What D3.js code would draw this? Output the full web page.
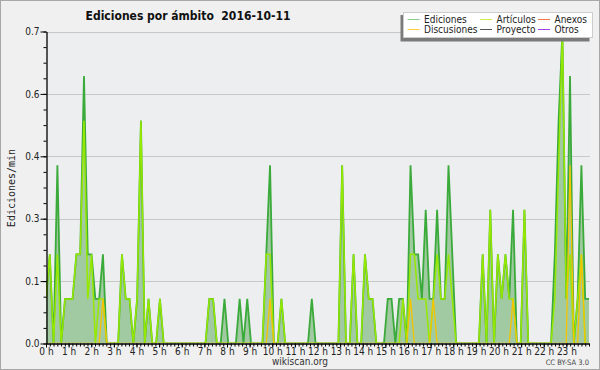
<!DOCTYPE html>
<html>
<head>
<meta charset="utf-8">
<script src="https://cdn.jsdelivr.net/npm/d3@7"></script>
<style>
body { margin: 0; background: #f0f0f0; }
svg { display: block; font-family: "DejaVu Sans Condensed", "DejaVu Sans", sans-serif; }
</style>
</head>
<body>
<script>
// edits per minute, one point per 10 minutes (144 points for the day)
var ediciones = [
	0.1,0.2,0,0.4,0,0.1,0.1,0.1,0.2,0.2,0.6,0.2,
	0.2,0.1,0.1,0.2,0,0,0,0,0.2,0.1,0.1,0,
	0.1,0.5,0,0.1,0,0,0.1,0,0,0,0,0,
	0,0,0,0,0,0,0,0.1,0.1,0,0,0.1,
	0,0,0,0.1,0,0.1,0,0,0,0,0.2,0.4,
	0,0,0.1,0,0,0,0,0,0,0,0.1,0,
	0,0,0,0,0,0,0.4,0,0,0.2,0,0,
	0.2,0.1,0.1,0,0,0,0.1,0.1,0,0.1,0.1,0,
	0.4,0.2,0.2,0.1,0.3,0.1,0.1,0.3,0.1,0.1,0.4,0.2,
	0,0,0,0,0,0,0,0.2,0,0.3,0,0.2,
	0.1,0.2,0.1,0.3,0,0,0.3,0,0,0,0,0,
	0,0,0.2,0.5,0.7,0.1,0.6,0,0.1,0.4,0.1,0.1
];
var articulos = [
	0.1,0.2,0,0.2,0,0.1,0.1,0.1,0.2,0.2,0.5,0.1,
	0.2,0,0.1,0.1,0,0,0,0,0.2,0.1,0.1,0,
	0.1,0.5,0,0.1,0,0,0.1,0,0,0,0,0,
	0,0,0,0,0,0,0,0.1,0.1,0,0,0,
	0,0,0,0,0,0,0,0,0,0,0.2,0.2,
	0,0,0.1,0,0,0,0,0,0,0,0,0,
	0,0,0,0,0,0,0.4,0,0,0.2,0,0,
	0.2,0.1,0.1,0,0,0,0,0,0,0,0.1,0,
	0.2,0.2,0.1,0.1,0.1,0,0.1,0.2,0.1,0.1,0.2,0.1,
	0,0,0,0,0,0,0,0.2,0,0.3,0,0.2,
	0.1,0.2,0.1,0.1,0,0,0.3,0,0,0,0,0,
	0,0,0.1,0.4,0.7,0.1,0.2,0,0.1,0.2,0,0
];
var discusiones = [
	0,0,0,0,0,0,0,0,0,0,0,0,
	0,0,0,0.1,0,0,0,0,0,0,0,0,
	0,0,0,0,0,0,0,0,0,0,0,0,
	0,0,0,0,0,0,0,0,0,0,0,0,
	0,0,0,0,0,0,0,0,0,0,0,0.1,
	0,0,0,0,0,0,0,0,0,0,0,0,
	0,0,0,0,0,0,0,0,0,0,0,0,
	0,0,0,0,0,0,0,0,0,0,0,0,
	0.1,0,0,0,0,0,0.1,0,0,0,0,0,
	0,0,0,0,0,0,0,0,0,0,0,0,
	0,0,0,0.1,0,0,0,0,0,0,0,0,
	0,0,0,0,0,0,0.4,0,0,0.2,0,0
];
var hourLabels = ["0 h","1 h","2 h","3 h","4 h","5 h","6 h","7 h","8 h","9 h","10 h","11 h",
	"12 h","13 h","14 h","15 h","16 h","17 h","18 h","19 h","20 h","21 h","22 h","23 h"];
var yTicks = [0, 0.14, 0.28, 0.42, 0.56, 0.7];
// legend goes column by column
var legendNames = ["Ediciones", "Discusiones", "Artículos", "Proyecto", "Anexos", "Otros"];

var colors = {
	"Ediciones": "#88cc88", "Discusiones": "#ffcc44", "Artículos": "#ccee44",
	"Proyecto": "#555555", "Anexos": "#ee7744", "Otros": "#9944ee"
};

function drawChart() {
	var svg = d3.select('body').append('svg')
		.attr('width', 600)
		.attr('height', 370);

	var left = 46, right = 589, top = 31.5, bottom = 343.5;

	// page background + frame
	svg.append('rect')
		.attr('x', 0.5).attr('y', 0.5)
		.attr('width', 599).attr('height', 369)
		.attr('fill', '#f0f0f0')
		.attr('stroke', '#a8a8a8');

	svg.append('rect')
		.attr('x', left).attr('y', top)
		.attr('width', right - left + 1).attr('height', bottom - top)
		.attr('fill', '#edeef0');

	var x = d3.scaleLinear().domain([0, ediciones.length - 1]).range([left, right]);
	var xTime = d3.scaleLinear().domain([0, 1440]).range([left, right]);
	var y = d3.scaleLinear().domain([0, 0.7]).range([bottom, top]);

	// grid
	svg.append('g').selectAll('line')
		.data(yTicks.slice(1))
		.enter().append('line')
		.attr('x1', left).attr('x2', right + 1)
		.attr('y1', function(d) { return Math.round(y(d)) + 0.5; })
		.attr('y2', function(d) { return Math.round(y(d)) + 0.5; })
		.attr('stroke', '#c8c8c8');

	svg.append('defs').append('clipPath').attr('id', 'plotclip')
		.append('rect')
		.attr('x', left).attr('y', 0)
		.attr('width', right - left + 2).attr('height', bottom - 0.6);

	var plot = svg.append('g').attr('clip-path', 'url(#plotclip)');

	var area = d3.area()
		.x(function(d, i) { return x(i); })
		.y0(y(0))
		.y1(function(d) { return y(d); });
	var line = d3.line()
		.x(function(d, i) { return x(i); })
		.y(function(d) { return y(d); });

	plot.append('path')
		.attr('d', area(ediciones))
		.attr('fill', '#a2caa2');

	plot.append('path')
		.attr('d', line(ediciones))
		.attr('fill', 'none')
		.attr('stroke', '#3aaa3a')
		.attr('stroke-width', 1.8);

	plot.append('path')
		.attr('d', line(articulos))
		.attr('fill', 'none')
		.attr('stroke', '#96e800')
		.attr('stroke-width', 1.5);

	plot.append('path')
		.attr('d', line(discusiones))
		.attr('fill', 'none')
		.attr('stroke', '#f4c400')
		.attr('stroke-width', 1.3);

	// y axis: minor ticks (4 per step) then the labelled ones
	var yMinor = d3.range(0, 21).map(function(k) { return k * 0.035; });
	svg.append('g')
		.attr('transform', 'translate(' + (left + 0.5) + ',0)')
		.call(d3.axisLeft(y).tickValues(yMinor).tickSize(3).tickSizeOuter(0).tickFormat(''))
		.call(function(g) { g.select('.domain').remove(); });

	var yAxis = svg.append('g')
		.attr('transform', 'translate(' + (left + 0.5) + ',0)')
		.call(d3.axisLeft(y).tickValues(yTicks).tickSize(6).tickSizeOuter(0)
			.tickPadding(1).tickFormat(d3.format('.1f')));
	yAxis.selectAll('text').attr('font-size', 10).attr('fill', '#222')
		.style('font-family', '"DejaVu Sans Condensed", "DejaVu Sans", sans-serif');
	yAxis.select('.domain').attr('stroke-width', 1.3);

	// x axis: 10 minute ticks and hours
	svg.append('g')
		.attr('transform', 'translate(0,' + bottom + ')')
		.call(d3.axisBottom(xTime).tickValues(d3.range(0, 1441, 10)).tickSize(3).tickSizeOuter(0).tickFormat(''))
		.call(function(g) { g.select('.domain').remove(); });

	var xAxis = svg.append('g')
		.attr('transform', 'translate(0,' + bottom + ')')
		.call(d3.axisBottom(xTime).tickValues(d3.range(0, 1440, 60)).tickSize(4).tickSizeOuter(0)
			.tickPadding(0).tickFormat(function(d, i) { return hourLabels[i]; }));
	xAxis.selectAll('text').attr('font-size', 10).attr('fill', '#222')
		.style('font-family', '"DejaVu Sans Condensed", "DejaVu Sans", sans-serif');
	xAxis.select('.domain').attr('stroke-width', 1.5);

	// titles
	svg.append('text')
		.attr('x', 188).attr('y', 20)
		.attr('text-anchor', 'middle')
		.attr('font-size', 12).attr('font-weight', 'bold')
		.attr('fill', '#111')
		.style('white-space', 'pre')
		.text('Ediciones por ámbito  2016-10-11');

	svg.append('text')
		.attr('transform', 'translate(15,188) rotate(-90)')
		.attr('text-anchor', 'middle')
		.attr('font-size', 10)
		.attr('fill', '#222')
		.style('font-family', '"DejaVu Sans Mono", monospace')
		.text('Ediciones/min');

	svg.append('text')
		.attr('x', 300).attr('y', 364.5)
		.attr('text-anchor', 'middle')
		.attr('font-size', 10).attr('fill', '#333')
		.text('wikiscan.org');

	svg.append('text')
		.attr('x', 589).attr('y', 365)
		.attr('text-anchor', 'end')
		.attr('font-size', 7.5).attr('fill', '#444')
		.text('CC BY-SA 3.0');

	// legend box with its shadow
	var legend = svg.append('g');
	legend.append('rect')
		.attr('x', 400.5).attr('y', 15)
		.attr('width', 189).attr('height', 26.5)
		.attr('fill', '#7a7a7a');
	legend.append('rect')
		.attr('x', 403.5).attr('y', 12.5)
		.attr('width', 189).attr('height', 25)
		.attr('fill', '#ffffff')
		.attr('stroke', '#cccccc');

	var colX = [407.5, 480, 538];
	var items = legend.selectAll('g.item')
		.data(legendNames)
		.enter().append('g')
		.attr('class', 'item')
		.attr('transform', function(d, i) {
			return 'translate(' + colX[Math.floor(i / 2)] + ',' + (19.5 + (i % 2) * 10) + ')';
		});
	items.append('line')
		.attr('x1', 0).attr('x2', 12)
		.attr('stroke', function(d) { return colors[d]; })
		.attr('stroke-width', 1);
	items.append('text')
		.attr('x', 16.5).attr('y', 3.7)
		.attr('font-size', 10).attr('fill', '#222')
		.text(function(d) { return d; });
}

window.addEventListener("DOMContentLoaded", function() {
	drawChart();
}, false);
</script>
</body>
</html>
